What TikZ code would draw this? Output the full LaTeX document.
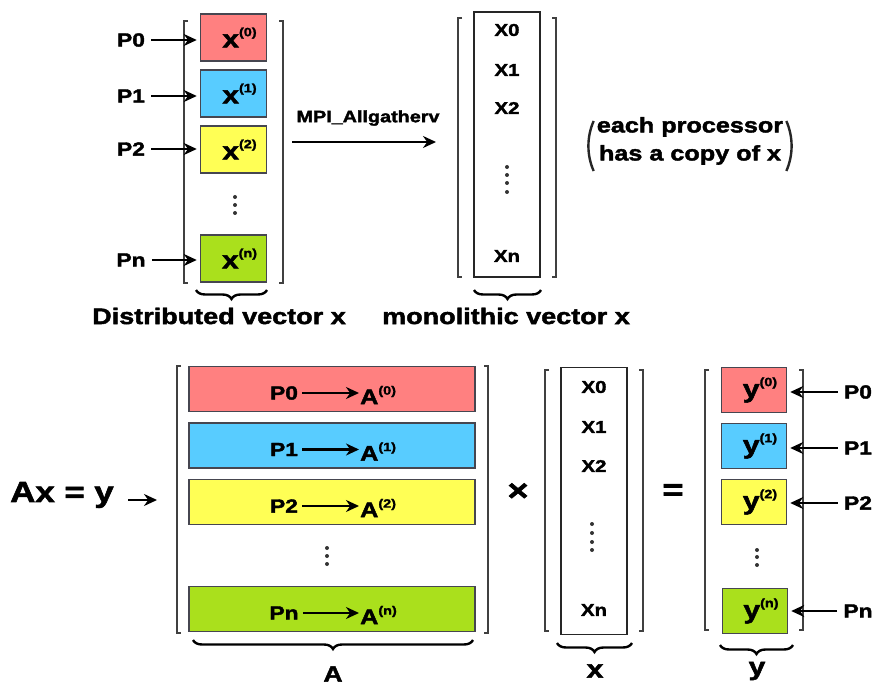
\documentclass[tikz,border=0pt]{standalone}
\usepackage{fontspec}
\setmainfont{Liberation Sans}[FakeStretch=1.2, BoldFeatures={FakeBold=2}]
\usetikzlibrary{arrows.meta,decorations.pathreplacing}

\definecolor{cellred}{RGB}{255,128,128}
\definecolor{cellblue}{RGB}{88,204,255}
\definecolor{cellyellow}{RGB}{255,255,85}
\definecolor{cellgreen}{RGB}{170,224,28}
\definecolor{cellline}{RGB}{70,70,80}

\newcommand{\fsz}[1]{\fontsize{#1}{#1}\selectfont}
% variable with a bracketed processor index as superscript
\newcommand{\procvar}[3]{{\fsz{#3}#1}\raisebox{0.45\dimexpr#3pt\relax}{\fsz{12}(#2)}}

\tikzset{
  cell/.style={draw=cellline, line width=1.5pt, inner sep=0pt, font=\bfseries},
  vcell/.style={cell, minimum width=66pt, minimum height=47pt},
  acell/.style={cell, minimum width=286pt, minimum height=45pt},
  ycell/.style={cell, minimum width=65pt, minimum height=45pt},
  colbox/.style={draw=black!85, line width=1.8pt, minimum width=66pt, inner sep=0pt},
  lbl/.style={font=\bfseries\fsz{19}, inner sep=0pt},
  ent/.style={font=\bfseries\fsz{17}, inner sep=0pt},
  brk/.style={draw=black!75, line width=2.8pt},
  arr/.style={-{Stealth[length=13pt,width=12pt]}, line width=2.8pt},
  brc/.style={decorate, decoration={brace, amplitude=9pt}, line width=2.4pt},
  dotc/.style={fill=black!80},
  paren/.style={draw=black!85, line width=2.4pt},
}

\begin{document}
\begin{tikzpicture}[x=1pt, y=-1pt]
\useasboundingbox (0,0) rectangle (876,687);

% ---------- distributed vector x ----------
\draw[brk] (188,21) -- (184,21) -- (184,283) -- (188,283);
\draw[brk] (279,21) -- (283,21) -- (283,283) -- (279,283);

\node[vcell, fill=cellred]    (x0) at (233.5,37.5)  {\hspace*{12pt}\procvar{x}{0}{25}};
\node[vcell, fill=cellblue]   (x1) at (233.5,93.5)  {\hspace*{12pt}\procvar{x}{1}{25}};
\node[vcell, fill=cellyellow] (x2) at (233.5,149.5) {\hspace*{12pt}\procvar{x}{2}{25}};
\node[vcell, fill=cellgreen]  (xn) at (233.5,258.5) {\hspace*{12pt}\procvar{x}{n}{25}};
\foreach \yy in {197,205,213} \fill[dotc] (235,\yy) circle (2pt);

\node[lbl] (p0) at (131,40)  {P0};
\node[lbl] (p1) at (131,96)  {P1};
\node[lbl] (p2) at (131,149) {P2};
\node[lbl] (pn) at (131,260) {Pn};
\foreach \p/\c in {p0/x0, p1/x1, p2/x2, pn/xn}
  \draw[arr] ([xshift=6pt]\p.east) -- ([xshift=-3pt]\p.east -| \c.west);

\draw[brc] (267,290) -- (196,290);
\node[font=\bfseries\fsz{22.5}] (dlab) at (219,316) {Distributed vector x};

% ---------- gather ----------
\node[font=\bfseries\fsz{16.5}] (mpi) at (368,118) {MPI\_Allgatherv};
\coordinate (gs) at (292,142);
\coordinate (ge) at (436,142);
\draw[arr] (gs) -- (ge);

% ---------- monolithic vector x ----------
\draw[brk] (462,18) -- (458,18) -- (458,277) -- (462,277);
\draw[brk] (552,18) -- (556,18) -- (556,277) -- (552,277);
\node[colbox, minimum height=265pt] (mono) at (507,144.5) {};
\node[ent] (m0) at (507,30)  {X0};
\node[ent] (m1) at (507,70)  {X1};
\node[ent] (m2) at (507,108) {X2};
\node[ent] (mn) at (507,256) {Xn};
\foreach \yy in {167,175,183,192} \fill[dotc] (507,\yy) circle (2pt);
\draw[brc] (541,290) -- (474,290);
\node[font=\bfseries\fsz{22.5}] (mlab) at (506,316) {monolithic vector x};

% note in parentheses
\node[font=\bfseries\fsz{21}, align=center, inner sep=0pt] (copy) at (690,141)
  {each processor\\[7pt]has a copy of x};
\draw[paren] ([xshift=-3pt]copy.north west) ++(0,-4pt)
  .. controls +(-7pt,-16pt) and +(-7pt,16pt) .. ([xshift=-3pt,yshift=-6pt]copy.south west);
\draw[paren] ([xshift=3pt]copy.north east) ++(0,-4pt)
  .. controls +(7pt,-16pt) and +(7pt,16pt) .. ([xshift=3pt,yshift=-6pt]copy.south east);

% ---------- Ax = y ----------
\node[font=\bfseries\fsz{29}, inner sep=0pt] (axy) at (62,495) {Ax = y};
\coordinate (as) at (128,500);
\coordinate (ae) at (157,500);
\draw[arr] (as) -- (ae);

% matrix A
\draw[brk] (181,366) -- (177,366) -- (177,633) -- (181,633);
\draw[brk] (484,366) -- (488,366) -- (488,633) -- (484,633);
\node[acell, fill=cellred]    (a0) at (332,389)   {};
\node[acell, fill=cellblue]   (a1) at (332,445.5) {};
\node[acell, fill=cellyellow] (a2) at (332,502)   {};
\node[acell, fill=cellgreen]  (an) at (332,609)   {};
\foreach \yy in {548,556,564} \fill[dotc] (327,\yy) circle (2pt);
\foreach \r/\i in {a0/0, a1/1, a2/2, an/n} {
  \node[lbl] (\r p) at ([xshift=-48pt,yshift=-4pt]\r.center) {P\i};
  \node[inner sep=0pt, font=\bfseries, anchor=west] (\r m) at ([xshift=28pt,yshift=-6pt]\r.center) {\procvar{A}{\i}{21}};
  \draw[arr] ([xshift=4pt]\r p.east) -- ([xshift=-1pt]\r m.west |- \r p.east);
}
\draw[brc] (473,640) -- (193,640);
\node[font=\bfseries\fsz{22}] (alab) at (333,674) {A};

\node[font=\bfseries\fsz{30}, inner sep=0pt] (times) at (518,492) {×};

% vector x
\draw[brk] (549,370) -- (545,370) -- (545,631) -- (549,631);
\draw[brk] (639,370) -- (643,370) -- (643,631) -- (639,631);
\node[colbox, minimum height=267pt] (xv) at (594,501) {};
\node[ent] (v0) at (594,387) {X0};
\node[ent] (v1) at (594,427) {X1};
\node[ent] (v2) at (594,466) {X2};
\node[ent] (vn) at (594,610) {Xn};
\foreach \yy in {524,533,542,550} \fill[dotc] (592,\yy) circle (2pt);
\draw[brc] (632,643) -- (557,643);
\node[font=\bfseries\fsz{25}] (xlab) at (595,671) {x};

\node[font=\bfseries\fsz{30}, inner sep=0pt] (equals) at (673,492) {=};

% vector y
\draw[brk] (709,370) -- (705,370) -- (705,630) -- (709,630);
\draw[brk] (799,370) -- (803,370) -- (803,630) -- (799,630);
\node[ycell, fill=cellred]    (y0) at (754,390) {\hspace*{12pt}\procvar{y}{0}{25}};
\node[ycell, fill=cellblue]   (y1) at (754,446) {\hspace*{12pt}\procvar{y}{1}{25}};
\node[ycell, fill=cellyellow] (y2) at (754,502) {\hspace*{12pt}\procvar{y}{2}{25}};
\node[ycell, fill=cellgreen]  (yn) at (755,611) {\hspace*{12pt}\procvar{y}{n}{25}};
\foreach \yy in {550,557,565} \fill[dotc] (757,\yy) circle (2pt);

\node[lbl] (q0) at (858,392) {P0};
\node[lbl] (q1) at (858,448) {P1};
\node[lbl] (q2) at (858,503) {P2};
\node[lbl] (qn) at (858,611) {Pn};
\foreach \p/\c in {q0/y0, q1/y1, q2/y2, qn/yn}
  \draw[arr] ([xshift=-6pt]\p.west) -- ([xshift=3pt]\p.west -| \c.east);

\draw[brc] (793,645) -- (720,645);
\node[font=\bfseries\fsz{25}] (ylab) at (757,671) {y};
\end{tikzpicture}
\end{document}
